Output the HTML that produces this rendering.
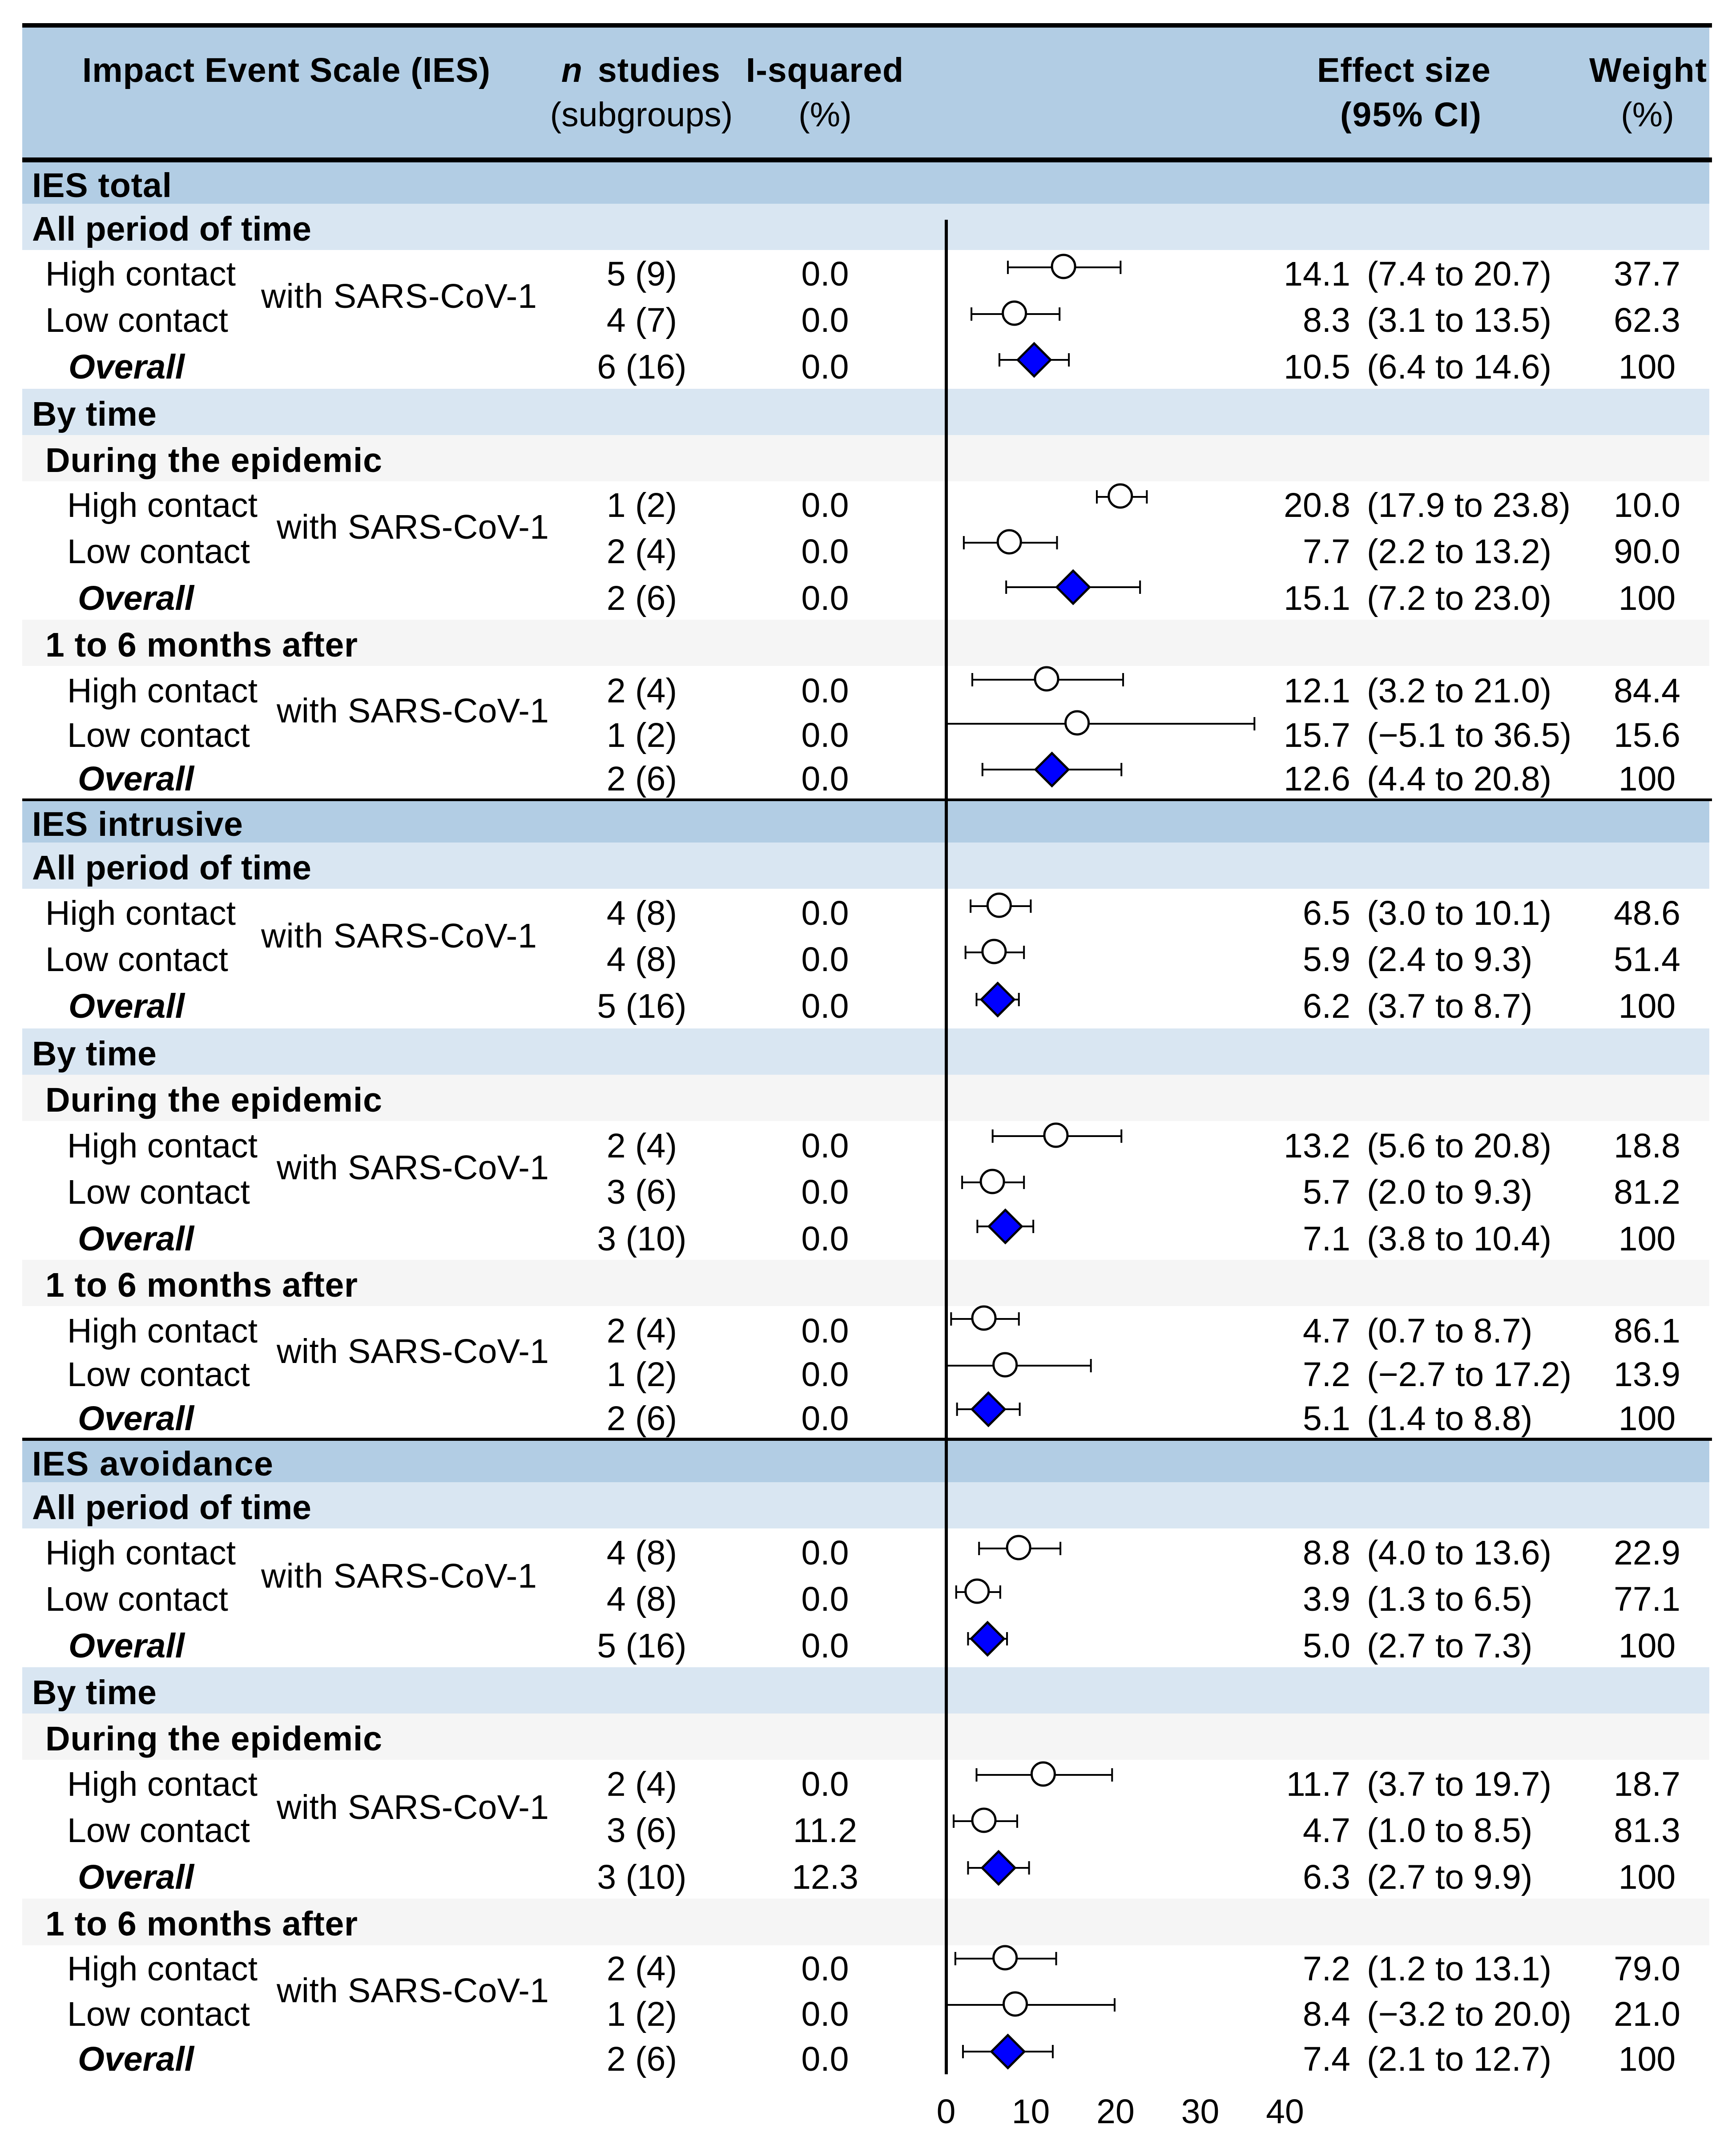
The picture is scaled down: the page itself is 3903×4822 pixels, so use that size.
<!DOCTYPE html>
<html lang="en">
<head>
<meta charset="utf-8">
<title>Impact Event Scale forest plot</title>
<style>
  html, body { margin: 0; padding: 0; background: #fff; }
  svg { display: block; }
  text { font-family: "Liberation Sans", Arial, sans-serif; fill: #000; font-size: 77px; }
  .b { font-weight: bold; }
  .bi { font-weight: bold; font-style: italic; }
</style>
</head>
<body>
<svg id="chart" xmlns="http://www.w3.org/2000/svg" width="3903" height="4822" viewBox="0 0 3903 4822">
  <rect x="0" y="0" width="3903" height="4822" fill="#ffffff"/>
  <rect x="50" y="62" width="3793" height="292" fill="#b2cde4"/>
  <g id="bands"></g>
  <rect x="50" y="52" width="3799" height="10" fill="#000"/>
  <rect x="50" y="354" width="3799" height="11" fill="#000"/>
  <g>
    <text class="b" x="185" y="184" textLength="917">Impact Event Scale (IES)</text>
    <text class="bi" x="1262" y="184">n</text>
    <text class="b" x="1344" y="184" textLength="275">studies</text>
    <text x="1442" y="284" text-anchor="middle">(subgroups)</text>
    <text class="b" x="1677" y="184" textLength="354">I-squared</text>
    <text x="1855" y="284" text-anchor="middle">(%)</text>
    <text class="b" x="2961" y="184" textLength="390">Effect size</text>
    <text class="b" x="3013" y="284" textLength="317">(95% CI)</text>
    <text class="b" x="3573" y="184" textLength="264">Weight</text>
    <text x="3704" y="284" text-anchor="middle">(%)</text>
  </g>
  <g id="rows"></g>
  <g id="plot"></g>
  <g id="axis"></g>
</svg>
<script>
// ---- chart data ----
const rowLabels = ["High contact","Low contact","Overall","High contact","Low contact","Overall","High contact","Low contact","Overall","High contact","Low contact","Overall","High contact","Low contact","Overall","High contact","Low contact","Overall","High contact","Low contact","Overall","High contact","Low contact","Overall","High contact","Low contact","Overall"];
const studies = ["5 (9)","4 (7)","6 (16)","1 (2)","2 (4)","2 (6)","2 (4)","1 (2)","2 (6)","4 (8)","4 (8)","5 (16)","2 (4)","3 (6)","3 (10)","2 (4)","1 (2)","2 (6)","4 (8)","4 (8)","5 (16)","2 (4)","3 (6)","3 (10)","2 (4)","1 (2)","2 (6)"];
const iSquared = [0.0,0.0,0.0,0.0,0.0,0.0,0.0,0.0,0.0,0.0,0.0,0.0,0.0,0.0,0.0,0.0,0.0,0.0,0.0,0.0,0.0,0.0,11.2,12.3,0.0,0.0,0.0];
const effect = [14.1,8.3,10.5,20.8,7.7,15.1,12.1,15.7,12.6,6.5,5.9,6.2,13.2,5.7,7.1,4.7,7.2,5.1,8.8,3.9,5.0,11.7,4.7,6.3,7.2,8.4,7.4];
const lower = [7.4,3.1,6.4,17.9,2.2,7.2,3.2,-5.1,4.4,3.0,2.4,3.7,5.6,2.0,3.8,0.7,-2.7,1.4,4.0,1.3,2.7,3.7,1.0,2.7,1.2,-3.2,2.1];
const upper = [20.7,13.5,14.6,23.8,13.2,23.0,21.0,36.5,20.8,10.1,9.3,8.7,20.8,9.3,10.4,8.7,17.2,8.8,13.6,6.5,7.3,19.7,8.5,9.9,13.1,20.0,12.7];
const weights = ["37.7","62.3","100","10.0","90.0","100","84.4","15.6","100","48.6","51.4","100","18.8","81.2","100","86.1","13.9","100","22.9","77.1","100","18.7","81.3","100","79.0","21.0","100"];
const axisTicks = [0,10,20,30,40];
const sectionNames = ["IES total","IES intrusive","IES avoidance"];
const groupNames = ["All period of time","By time","During the epidemic","1 to 6 months after"];

// ---- page layout (not data) ----
const SVGNS = "http://www.w3.org/2000/svg";
const BAND_SECTION = "#b2cde4", BAND_GROUP = "#d9e6f2", BAND_SUB = "#f5f5f5";
const sectionTextWidth = [314, 474, 542];
const groupTextWidth = [628, 280, 757, 702];
const sectionLayout = [
  { rule: null, top: 365, bands: [458, 874, 978, 1393], ends: [458, 562, 978, 1082, 1497] },
  { rule: 1795, top: 1801, bands: [1894, 2312, 2416, 2832], ends: [1894, 1998, 2416, 2520, 2936] },
  { rule: 3232, top: 3239, bands: [3332, 3748, 3852, 4268], ends: [3332, 3436, 3852, 3956, 4373] }
];
const blockLayout = [
  { top: 562, text: [80,184,289], mark: [39,144,247], withY: 692, indent: 0 },
  { top: 1082, text: [80,184,289], mark: [35,138,238], withY: 1211, indent: 1 },
  { top: 1497, text: [82,182,280], mark: [31,130,233], withY: 1624, indent: 1 },
  { top: 1998, text: [81,185,290], mark: [39,143,249], withY: 2130, indent: 0 },
  { top: 2520, text: [82,186,291], mark: [34,138,237], withY: 2651, indent: 1 },
  { top: 2936, text: [82,180,279], mark: [29,134,232], withY: 3064, indent: 1 },
  { top: 3436, text: [81,185,290], mark: [45,143,248], withY: 3569, indent: 0 },
  { top: 3956, text: [81,185,290], mark: [34,138,243], withY: 4089, indent: 1 },
  { top: 4373, text: [79,181,282], mark: [30,134,239], withY: 4501, indent: 1 }
];
const X0 = 2125, PX_PER_UNIT = 19.05;
function xScale(v) { return X0 + v * PX_PER_UNIT; }

function make(parent, tag, props) {
  const el = document.createElementNS(SVGNS, tag);
  for (const k in props) el.setAttribute(k, props[k]);
  parent.appendChild(el);
  return el;
}
function label(parent, str, x, y, cls, anchor) {
  const el = make(parent, "text", { x: x, y: y });
  if (cls) el.setAttribute("class", cls);
  if (anchor) el.setAttribute("text-anchor", anchor);
  el.textContent = str;
  return el;
}
function signed(v) {
  return (v < 0 ? "\u2212" : "") + Math.abs(v).toFixed(1);
}

const bandsG = document.getElementById("bands");
const rowsG = document.getElementById("rows");
const plotG = document.getElementById("plot");
const axisG = document.getElementById("axis");

// bands and their headings
sectionLayout.forEach(function (sec, s) {
  const secBand = make(bandsG, "rect", { x: 50, y: sec.top, width: 3793, height: sec.bands[0] - sec.top, fill: BAND_SECTION });
  
  
  const secText = label(rowsG, sectionNames[s], 72, sec.top + 78, "b");
  secText.setAttribute("textLength", sectionTextWidth[s]);
  
  

  const fills = [BAND_GROUP, BAND_GROUP, BAND_SUB, BAND_SUB];
  const tops = [sec.bands[0], sec.bands[1], sec.bands[2], sec.bands[3]];
  const bottoms = [sec.ends[1], sec.ends[2], sec.ends[3], sec.ends[4]];
  tops.forEach(function (t, i) {
    const band = make(bandsG, "rect", { x: 50, y: t, width: 3793, height: bottoms[i] - t, fill: fills[i] });
    
    
    const heading = label(rowsG, groupNames[i], i < 2 ? 72 : 102, t + 83, "b");
    heading.setAttribute("textLength", groupTextWidth[i]);
    
    
  });
  if (sec.rule !== null) {
    const rule = make(bandsG, "rect", { x: 50, y: sec.rule, width: 3799, height: sec.top - sec.rule, fill: "#000" });
    
    
  }
});

// y-axis zero line (drawn beneath marks)
const zeroLine = make(plotG, "line", { x1: 2127.5, x2: 2127.5, y1: 494, y2: 4663, stroke: "#000", "stroke-width": 7 });



// rows and marks
rowLabels.forEach(function (name, i) {
  const block = blockLayout[Math.floor(i / 3)];
  const r = i % 3;
  const ty = block.top + block.text[r];
  const my = block.top + block.mark[r];
  const isOverall = r === 2;
  const labelX = isOverall ? (block.indent ? 175 : 154) : (block.indent ? 151 : 102);

  const nameText = label(rowsG, name, labelX, ty, isOverall ? "bi" : "");
  
  

  const stText = label(rowsG, studies[i], 1443, ty, "", "middle");
  
  

  const isqText = label(rowsG, iSquared[i].toFixed(1), 1855, ty, "", "middle");
  
  

  const esText = label(rowsG, effect[i].toFixed(1), 3036, ty, "", "end");
  
  

  const ciText = label(rowsG, "(" + signed(lower[i]) + " to " + signed(upper[i]) + ")", 3073, ty);
  
  

  const wtText = label(rowsG, weights[i], 3703, ty, "", "middle");
  
  

  // whisker
  const clipped = lower[i] < 0;
  const xL = clipped ? xScale(0) : xScale(lower[i]);
  const xU = xScale(upper[i]);
  const whisker = make(plotG, "line", { x1: xL, x2: xU, y1: my, y2: my, stroke: "#000", "stroke-width": 4 });
  
  
  if (!clipped) {
    const capL = make(plotG, "line", { x1: xL, x2: xL, y1: my - 15, y2: my + 15, stroke: "#000", "stroke-width": 4 });
    
    
  }
  const capU = make(plotG, "line", { x1: xU, x2: xU, y1: my - 15, y2: my + 15, stroke: "#000", "stroke-width": 4 });
  
  

  // marker
  const xE = xScale(effect[i]);
  if (isOverall) {
    const pts = [[xE, my - 37], [xE + 37, my], [xE, my + 37], [xE - 37, my]].map(function (p) { return p.join(","); }).join(" ");
    const dia = make(plotG, "polygon", { points: pts, fill: "#0000ff", stroke: "#000", "stroke-width": 5, "stroke-linejoin": "miter" });
    
    
  } else {
    const dot = make(plotG, "circle", { cx: xE - 2.5, cy: my - 2, r: 26, fill: "#fff", stroke: "#000", "stroke-width": 5 });
    
    
  }

  // "with SARS-CoV-1" spans the high/low rows
  if (r === 0) {
    const withText = label(rowsG, "with SARS-CoV-1", block.indent ? 622 : 587, block.withY);
    withText.setAttribute("textLength", block.indent ? 612 : 620);
    
    
  }
});

// axis tick labels
axisTicks.forEach(function (t) {
  const tick = label(axisG, String(t), xScale(t) + 2, 4773, "", "middle");
  
  
});
</script>
</body>
</html>
